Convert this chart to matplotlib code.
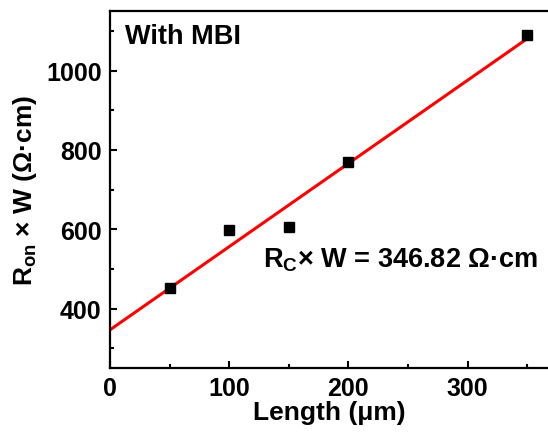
import numpy as np
import matplotlib
matplotlib.use("Agg")
import matplotlib.pyplot as plt
from matplotlib.ticker import MultipleLocator

plt.rcParams['font.family'] = ['Liberation Sans', 'DejaVu Sans']
plt.rcParams['font.weight'] = 'bold'
plt.rcParams['mathtext.fontset'] = 'custom'
plt.rcParams['mathtext.rm'] = 'Liberation Sans:bold'
plt.rcParams['mathtext.it'] = 'Liberation Sans:bold'
plt.rcParams['mathtext.bf'] = 'Liberation Sans:bold'

# data
length = [50, 100, 150, 200, 350]          # um
ron_w = [452, 597, 605, 770, 1090]         # ohm*cm
rc_text = "346.82"

slope, intercept = np.polyfit(length, ron_w, 1)
xfit = np.array([0, 350])
yfit = slope * xfit + intercept

fig = plt.figure(figsize=(5.48, 4.39), dpi=100)
ax = fig.add_axes([110/548, 70/439, 1 - 110/548, 357/439])

ax.plot(xfit, yfit, color='red', lw=2.2, zorder=2)
ax.plot(length, ron_w, 's', color='black', ms=7.2, zorder=3)

ax.set_xlim(0, 367.4)
ax.set_ylim(250, 1150)
ax.xaxis.set_major_locator(MultipleLocator(100))
ax.xaxis.set_minor_locator(MultipleLocator(50))
ax.yaxis.set_major_locator(MultipleLocator(200))
ax.yaxis.set_minor_locator(MultipleLocator(100))
ax.tick_params(which='both', direction='in', width=1.5, labelsize=18)
ax.tick_params(which='major', length=5, pad=6)
ax.tick_params(which='minor', length=3)
ax.spines['right'].set_visible(False)
for s in ['left', 'bottom', 'top']:
    ax.spines[s].set_linewidth(1.6)

ax.set_xlabel('Length (μm)', fontsize=19, fontweight='bold', labelpad=0)
ax.set_ylabel(r'R$_{\rm on}$ × W (Ω·cm)', fontsize=19, fontweight='bold', labelpad=5)

ax.text(0.035, 0.965, 'With MBI', transform=ax.transAxes, fontsize=19.5,
        fontweight='bold', va='top', ha='left')
ax.text(128, 524, r'R$_{\rm C}$× W = ' + rc_text + ' Ω·cm', fontsize=19.5,
        fontweight='bold', va='center', ha='left')

fig.savefig('out.png', dpi=100)
